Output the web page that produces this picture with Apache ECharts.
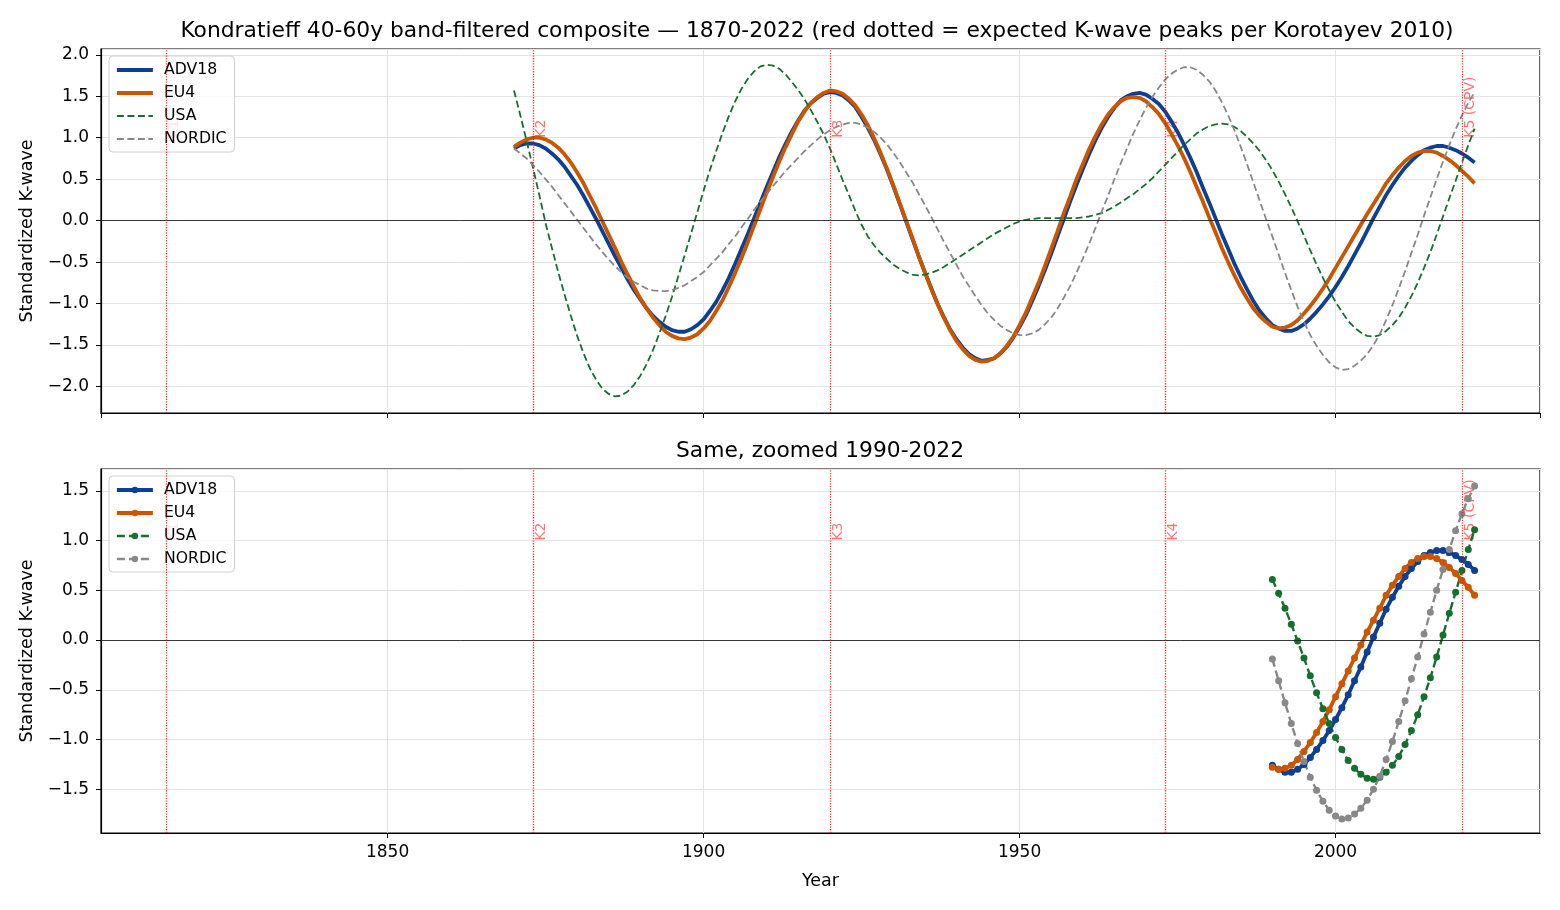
<!DOCTYPE html>
<html lang="en">
<head>
<meta charset="utf-8">
<title>Kondratieff K-wave composite</title>
<script src="https://cdn.jsdelivr.net/npm/echarts@6.0.0/dist/echarts.min.js"></script>
<style>
    html, body { margin: 0; padding: 0; background: #fff; }
    #chartMain { width: 1560px; height: 910px; }
</style>
</head>
<body>

<div id="chartMain"></div>

<script>
    // yearly values, 1870 .. 2022
    var firstYear = 1870;
    var zoomFrom = 1990;

    var adv18 = [
        0.87, 0.91, 0.93, 0.93, 0.91, 0.87, 0.81, 0.74, 0.65, 0.54,
        0.43, 0.30, 0.16, 0.02, -0.13, -0.28, -0.43, -0.57, -0.71, -0.84,
        -0.95, -1.06, -1.15, -1.22, -1.28, -1.32, -1.34, -1.34, -1.31, -1.26,
        -1.19, -1.09, -0.98, -0.84, -0.69, -0.52, -0.34, -0.16, 0.03, 0.22,
        0.41, 0.59, 0.77, 0.93, 1.08, 1.21, 1.33, 1.42, 1.48, 1.53,
        1.55, 1.54, 1.51, 1.45, 1.37, 1.25, 1.12, 0.97, 0.80, 0.62,
        0.42, 0.21, 0.00, -0.21, -0.42, -0.62, -0.81, -1.00, -1.16, -1.31,
        -1.43, -1.53, -1.61, -1.66, -1.69, -1.68, -1.66, -1.60, -1.52, -1.41,
        -1.28, -1.14, -0.97, -0.79, -0.60, -0.40, -0.19, 0.02, 0.23, 0.43,
        0.62, 0.80, 0.97, 1.12, 1.25, 1.36, 1.45, 1.50, 1.53, 1.54,
        1.52, 1.47, 1.41, 1.32, 1.20, 1.07, 0.92, 0.76, 0.59, 0.40,
        0.22, 0.03, -0.16, -0.34, -0.52, -0.68, -0.83, -0.97, -1.09, -1.18,
        -1.26, -1.30, -1.33, -1.33, -1.30, -1.25, -1.18, -1.10, -1.01, -0.91,
        -0.80, -0.68, -0.55, -0.41, -0.27, -0.12, 0.03, 0.17, 0.31, 0.43,
        0.54, 0.64, 0.72, 0.79, 0.85, 0.88, 0.90, 0.90, 0.88, 0.85,
        0.81, 0.76, 0.70
    ];

    var eu4 = [
        0.89, 0.94, 0.98, 1.00, 1.00, 0.98, 0.94, 0.88, 0.80, 0.70,
        0.58, 0.45, 0.30, 0.15, -0.01, -0.17, -0.33, -0.50, -0.65, -0.80,
        -0.94, -1.06, -1.17, -1.26, -1.34, -1.39, -1.42, -1.43, -1.41, -1.37,
        -1.30, -1.21, -1.09, -0.96, -0.80, -0.63, -0.45, -0.26, -0.06, 0.14,
        0.34, 0.53, 0.72, 0.89, 1.05, 1.20, 1.32, 1.42, 1.49, 1.54,
        1.57, 1.56, 1.53, 1.47, 1.39, 1.28, 1.15, 0.99, 0.82, 0.63,
        0.43, 0.22, 0.01, -0.20, -0.42, -0.62, -0.82, -1.00, -1.17, -1.32,
        -1.45, -1.55, -1.63, -1.68, -1.70, -1.69, -1.66, -1.60, -1.51, -1.40,
        -1.26, -1.11, -0.93, -0.75, -0.55, -0.34, -0.13, 0.09, 0.29, 0.50,
        0.68, 0.86, 1.02, 1.16, 1.28, 1.37, 1.44, 1.48, 1.49, 1.48,
        1.44, 1.37, 1.29, 1.18, 1.05, 0.91, 0.76, 0.59, 0.41, 0.23,
        0.04, -0.14, -0.33, -0.50, -0.66, -0.81, -0.94, -1.06, -1.15, -1.22,
        -1.28, -1.30, -1.29, -1.26, -1.20, -1.12, -1.03, -0.93, -0.82, -0.70,
        -0.57, -0.44, -0.31, -0.18, -0.05, 0.08, 0.20, 0.32, 0.45, 0.55,
        0.64, 0.72, 0.78, 0.82, 0.84, 0.84, 0.82, 0.78, 0.73, 0.67,
        0.60, 0.53, 0.45
    ];

    var usa = [
        1.57, 1.27, 0.96, 0.64, 0.31, -0.03, -0.33, -0.62, -0.89, -1.15,
        -1.39, -1.60, -1.78, -1.92, -2.03, -2.09, -2.12, -2.11, -2.06, -1.98,
        -1.87, -1.73, -1.56, -1.36, -1.15, -0.92, -0.67, -0.42, -0.16, 0.10,
        0.36, 0.61, 0.84, 1.06, 1.26, 1.44, 1.59, 1.71, 1.80, 1.86,
        1.88, 1.87, 1.83, 1.76, 1.67, 1.57, 1.46, 1.33, 1.19, 1.04,
        0.87, 0.68, 0.49, 0.31, 0.12, -0.05, -0.19, -0.30, -0.39, -0.46,
        -0.53, -0.58, -0.62, -0.65, -0.66, -0.65, -0.63, -0.60, -0.56, -0.51,
        -0.46, -0.41, -0.36, -0.31, -0.26, -0.21, -0.16, -0.12, -0.08, -0.04,
        -0.01, 0.01, 0.02, 0.03, 0.03, 0.03, 0.03, 0.03, 0.03, 0.03,
        0.04, 0.05, 0.07, 0.09, 0.13, 0.17, 0.22, 0.27, 0.32, 0.38,
        0.44, 0.51, 0.59, 0.67, 0.75, 0.83, 0.91, 0.98, 1.05, 1.10,
        1.14, 1.16, 1.17, 1.16, 1.13, 1.08, 1.01, 0.93, 0.84, 0.73,
        0.61, 0.47, 0.32, 0.16, -0.01, -0.18, -0.36, -0.53, -0.69, -0.84,
        -0.98, -1.10, -1.21, -1.29, -1.35, -1.39, -1.40, -1.38, -1.33, -1.26,
        -1.17, -1.05, -0.91, -0.75, -0.57, -0.38, -0.17, 0.05, 0.27, 0.48,
        0.70, 0.91, 1.11
    ];

    var nordic = [
        0.87, 0.81, 0.75, 0.67, 0.59, 0.50, 0.41, 0.31, 0.21, 0.11,
        0.01, -0.09, -0.19, -0.29, -0.38, -0.47, -0.55, -0.62, -0.69, -0.74,
        -0.78, -0.82, -0.84, -0.85, -0.85, -0.84, -0.81, -0.78, -0.73, -0.68,
        -0.62, -0.54, -0.46, -0.38, -0.28, -0.19, -0.08, 0.02, 0.13, 0.23,
        0.32, 0.42, 0.51, 0.60, 0.68, 0.76, 0.84, 0.91, 0.98, 1.04,
        1.09, 1.13, 1.16, 1.18, 1.18, 1.16, 1.12, 1.07, 1.00, 0.92,
        0.82, 0.71, 0.59, 0.47, 0.33, 0.19, 0.05, -0.10, -0.25, -0.39,
        -0.53, -0.67, -0.79, -0.91, -1.02, -1.12, -1.20, -1.27, -1.32, -1.36,
        -1.38, -1.38, -1.36, -1.32, -1.25, -1.17, -1.06, -0.93, -0.79, -0.63,
        -0.46, -0.28, -0.09, 0.11, 0.30, 0.50, 0.69, 0.87, 1.05, 1.21,
        1.36, 1.49, 1.60, 1.70, 1.77, 1.82, 1.85, 1.85, 1.82, 1.76,
        1.68, 1.57, 1.43, 1.27, 1.09, 0.89, 0.68, 0.46, 0.24, 0.02,
        -0.19, -0.41, -0.63, -0.84, -1.04, -1.22, -1.38, -1.51, -1.62, -1.71,
        -1.77, -1.80, -1.79, -1.75, -1.69, -1.61, -1.50, -1.37, -1.20, -1.02,
        -0.82, -0.61, -0.39, -0.17, 0.06, 0.28, 0.50, 0.71, 0.91, 1.10,
        1.27, 1.42, 1.55
    ];

    // expected K-wave peaks (Korotayev 2010)
    var peakYears = [1815, 1873, 1920, 1973, 2020];
    var peakLabels = ['K1', 'K2', 'K3', 'K4', 'K5 (CPV)'];
    var peakLabelLevel = 1.0;

    var FONT = 'DejaVu Sans';

    var lines = [
        {name: 'ADV18',  values: adv18,  color: '#0d3f94', width: 3.8, dash: 'solid', zoomWidth: 3.8, zoomDash: 'solid'},
        {name: 'EU4',    values: eu4,    color: '#cc5500', width: 3.8, dash: 'solid', zoomWidth: 3.8, zoomDash: 'solid'},
        {name: 'USA',    values: usa,    color: '#15702f', width: 1.8, dash: [7, 3.5], zoomWidth: 2.4, zoomDash: [8, 4]},
        {name: 'NORDIC', values: nordic, color: '#888888', width: 1.8, dash: [7, 3.5], zoomWidth: 2.4, zoomDash: [8, 4]}
    ];

    function pairs(values, from) {
        var out = [];
        for (var i = 0; i < values.length; i++) {
            var yr = firstYear + i;
            if (yr >= from) out.push([yr, values[i]]);
        }
        return out;
    }

    function fmtTick(v) {
        return v.toFixed(1).replace('-', '\u2212');
    }

    var series = [];

    // top panel: full period, plain lines
    lines.forEach(function (l, i) {
        var s = {
            type: 'line', name: l.name,
            xAxisIndex: 0, yAxisIndex: 0,
            data: pairs(l.values, firstYear),
            symbol: 'none',
            lineStyle: {color: l.color, width: l.width, type: l.dash},
            itemStyle: {color: l.color}
        };
        if (i === 0) {
            s.markLine = {
                silent: true, symbol: 'none', label: {show: false},
                lineStyle: {color: '#222', width: 0.9, type: 'solid'},
                data: [{yAxis: 0}]
            };
        }
        series.push(s);
    });

    // bottom panel: 1990-2022 with markers
    lines.forEach(function (l, i) {
        var s = {
            type: 'line', name: l.name + ' zoom',
            xAxisIndex: 1, yAxisIndex: 1,
            data: pairs(l.values, zoomFrom),
            symbol: 'circle', symbolSize: 7, showSymbol: true,
            lineStyle: {color: l.color, width: l.zoomWidth, type: l.zoomDash},
            itemStyle: {color: l.color}
        };
        if (i === 0) {
            s.markLine = {
                silent: true, symbol: 'none', label: {show: false},
                lineStyle: {color: '#222', width: 0.9, type: 'solid'},
                data: [{yAxis: 0}]
            };
        }
        series.push(s);
    });

    // red dotted peak markers with their labels, one set per panel
    [0, 1].forEach(function (k) {
        series.push({
            type: 'scatter', name: 'peaks' + k,
            xAxisIndex: k, yAxisIndex: k,
            data: peakYears.map(function (y) { return [y, peakLabelLevel]; }),
            symbolSize: 0, silent: true, z: 1,
            label: {
                show: true, rotate: 90,
                position: [8, 0], align: 'left', verticalAlign: 'middle',
                formatter: function (p) { return peakLabels[p.dataIndex]; },
                color: 'rgba(255,0,0,0.7)', fontSize: 14, fontFamily: FONT
            },
            markLine: {
                silent: true, symbol: 'none', label: {show: false},
                lineStyle: {color: 'rgba(255,0,0,0.8)', width: 1.3, type: 'dotted'},
                data: peakYears.map(function (y) { return {xAxis: y}; })
            }
        });
    });

    function xAxisFor(k) {
        return {
            type: 'value', gridIndex: k,
            min: 1804.65, max: 2032.35, splitNumber: 5,
            axisLine: {show: true, onZero: false, lineStyle: {color: '#000', width: 1.2}},
            axisTick: {show: true, length: 5, lineStyle: {color: '#000'}},
            axisLabel: {
                show: k === 1, margin: 11, color: '#000', fontSize: 17, fontFamily: FONT,
                showMinLabel: false, showMaxLabel: false,
                formatter: function (v) { return v.toFixed(0); }
            },
            splitLine: {show: true, lineStyle: {color: '#e4e4e4', width: 1}},
            name: k === 1 ? 'Year' : '',
            nameLocation: 'middle', nameGap: 39,
            nameTextStyle: {color: '#000', fontSize: 17.5, fontFamily: FONT}
        };
    }

    function yAxisFor(k, lo, hi, n) {
        return {
            type: 'value', gridIndex: k,
            min: lo, max: hi, splitNumber: n,
            axisLine: {show: true, onZero: false, lineStyle: {color: '#000', width: 1.2}},
            axisTick: {show: true, length: 5, lineStyle: {color: '#000'}},
            axisLabel: {
                margin: 12, color: '#000', fontSize: 17, fontFamily: FONT,
                showMinLabel: false, showMaxLabel: false,
                formatter: fmtTick
            },
            splitLine: {show: true, lineStyle: {color: '#e4e4e4', width: 1}},
            name: 'Standardized K-wave',
            nameLocation: 'middle', nameGap: 64, nameRotate: 90,
            nameTextStyle: {color: '#000', fontSize: 17.5, fontFamily: FONT}
        };
    }

    var legendBase = {
        orient: 'vertical', left: 109,
        itemWidth: 36, itemHeight: 8, itemGap: 7,
        padding: [6, 8, 5, 6],
        backgroundColor: 'rgba(255,255,255,0.8)',
        borderColor: '#d0d0d0', borderWidth: 1, borderRadius: 4,
        selectedMode: false,
        lineStyle: {width: 'inherit', type: 'inherit'},
        textStyle: {color: '#000', fontSize: 15.7, fontFamily: FONT, padding: [0, 0, 0, 6]},
        formatter: function (n) { return n.split(' ')[0]; }
    };

    var myChart = echarts.init(document.getElementById('chartMain'));

    myChart.setOption({
        animation: false,
        backgroundColor: '#fff',
        textStyle: {fontFamily: FONT},
        graphic: [
            {
                type: 'text', x: 817, y: 31, silent: true,
                style: {
                    text: 'Kondratieff 40-60y band-filtered composite \u2014 1870-2022 (red dotted = expected K-wave peaks per Korotayev 2010)',
                    font: '21.8px "DejaVu Sans"', fill: '#000',
                    textAlign: 'center', textVerticalAlign: 'middle'
                }
            },
            {
                type: 'text', x: 820, y: 451, silent: true,
                style: {
                    text: 'Same, zoomed 1990-2022',
                    font: '21.8px "DejaVu Sans"', fill: '#000',
                    textAlign: 'center', textVerticalAlign: 'middle'
                }
            }
        ],
        legend: [
            Object.assign({}, legendBase, {
                top: 56,
                data: lines.map(function (l) { return l.name; }),
                itemStyle: {opacity: 0}
            }),
            Object.assign({}, legendBase, {
                top: 476,
                data: lines.map(function (l) { return l.name + ' zoom'; })
            })
        ],
        grid: [
            {left: 101, right: 20, top: 49, height: 364, show: true, borderColor: '#000', borderWidth: 1.2, backgroundColor: 'transparent'},
            {left: 101, right: 20, top: 469, height: 364, show: true, borderColor: '#000', borderWidth: 1.2, backgroundColor: 'transparent'}
        ],
        xAxis: [xAxisFor(0), xAxisFor(1)],
        yAxis: [yAxisFor(0, -2.32, 2.07, 9), yAxisFor(1, -1.94, 1.72, 8)],
        series: series
    });
</script>
</body>
</html>
